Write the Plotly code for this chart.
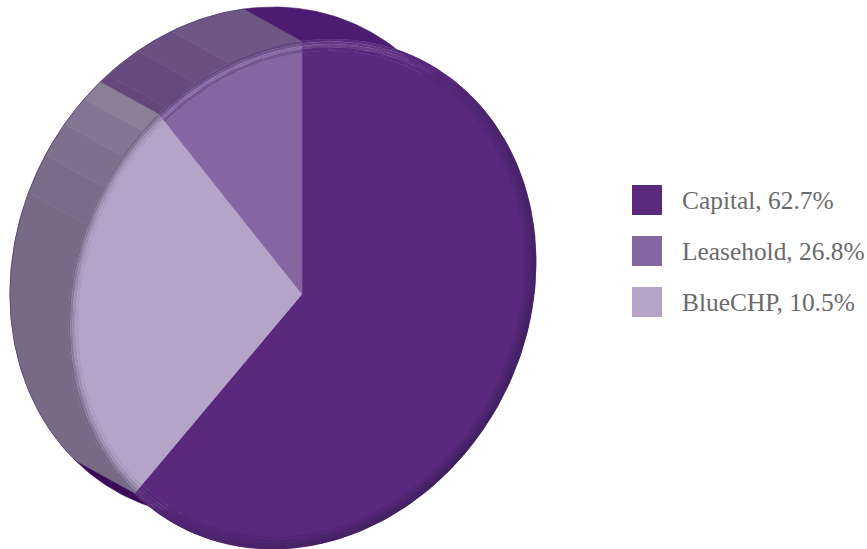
import numpy as np
import plotly.graph_objects as go

# Shares of the portfolio, in legend order
names = ["Capital", "Leasehold", "BlueCHP"]
shares = [62.7, 26.8, 10.5]
legend_colors = ["#5b2a7e", "#8566a0", "#b5a4c8"]

# Slice fill for each share, and the shade of its side wall
face_colors = ["#5a297d", "#b5a4c8", "#8566a0"]
wall_breaks = [
    (225.7, 293.0, "#786a85"), (293.0, 302.0, "#7a6c88"),
    (302.0, 310.0, "#7e708c"), (310.0, 317.0, "#837692"), (317.0, 322.2, "#8b7f98"),
    (322.2, 324.4, "#654879"), (324.4, 333.0, "#674b7f"), (333.0, 342.0, "#6a4f80"),
    (342.0, 360.0, "#6f5785"), (0.0, 100.0, "#4b1c70"), (100.0, 225.7, "#3a0c5a"),
]

# Projection of the disc: apex, axis vectors and extrusion direction
CENTER = np.array([302.0, 294.0])
AXIS_UP = np.array([0.0, -253.0])
AXIS_RIGHT = np.array([234.0, -32.0])
DEPTH = np.array([-58.0, -32.0])
RIM_SCALES = [1.0, 0.99, 0.98, 0.968, 0.954]
SHADOW = (50, 30, 80)
GREY_SHADOW = (108, 94, 124)


def rim_point(deg, scale=1.0):
    t = np.radians(deg)
    t = np.atleast_1d(t)
    return CENTER + scale * (np.outer(np.sin(t), AXIS_RIGHT) + np.outer(np.cos(t), AXIS_UP))


def mix(hex_color, target, amount):
    c = np.array([int(hex_color[i:i + 2], 16) for i in (1, 3, 5)], float)
    out = c + (np.array(target, float) - c) * amount
    return "rgb({},{},{})".format(*[int(round(v)) for v in out])


def polygon(fig, pts, color, line_color=None, width=0.6, name=None):
    fig.add_trace(go.Scatter(
        x=pts[:, 0], y=pts[:, 1], mode="lines", fill="toself", fillcolor=color,
        line=dict(color=line_color or color, width=width), hoverinfo="skip",
        showlegend=False, name=name,
    ))


fig = go.Figure()

# Side walls of the extruded disc
for start, stop, color in wall_breaks:
    arc = np.linspace(start, stop, max(3, int(stop - start) + 2))
    front = rim_point(arc)
    back = front + DEPTH
    polygon(fig, np.vstack([front, back[::-1], front[:1]]), color)

# Thin darker edge along the far side of the wall
arc = np.linspace(225.7, 360, 120)
back_edge = rim_point(arc) + DEPTH
fig.add_trace(go.Scatter(x=back_edge[:, 0], y=back_edge[:, 1], mode="lines",
                         line=dict(color="#5f4a80", width=1.0), hoverinfo="skip", showlegend=False))

# Slice boundaries in degrees, clockwise from twelve o'clock
edges = np.concatenate([[0.0], np.cumsum(shares) / np.sum(shares) * 360.0])

# Flat slice faces
for i, color in enumerate(face_colors):
    arc = np.linspace(edges[i], edges[i + 1], 120)
    pts = np.vstack([CENTER, rim_point(arc, RIM_SCALES[-1]), CENTER])
    polygon(fig, pts, color, name=names[i])


def rim_shade(index, deg, ring):
    # Bevel: a highlight near the top, shadow on the right and lower side
    base = face_colors[index]
    lit = max(0.0, np.cos(np.radians(deg - 350.0))) ** 4
    shade = max(0.0, np.cos(np.radians(deg - 130.0))) ** 0.6
    if index == 0:
        amounts = [0.50, 0.38, 0.24, 0.06]
        amount = amounts[ring] * shade
        if deg < 35:
            glow = [0.0, 0.08, 0.14, 0.0][ring] * lit
            return mix(base, (255, 255, 255), glow)
        return mix(base, SHADOW, amount + 0.12)
    if index == 1:
        amounts = [0.85, 0.6, 0.32, 0.12]
        return mix(base, GREY_SHADOW, amounts[ring])
    amounts = [0.45, 0.28, -0.2, 0.22]
    amount = amounts[ring]
    return mix(base, (165, 130, 200), -amount) if amount < 0 else mix(base, SHADOW, amount)


# Bevelled rim of each slice
for i in range(len(face_colors)):
    steps = np.arange(edges[i], edges[i + 1], 7.0)
    steps = np.append(steps, edges[i + 1])
    for a, b in zip(steps[:-1], steps[1:]):
        arc = np.linspace(a, b, 6)
        for ring in range(len(RIM_SCALES) - 1):
            outer = rim_point(arc, RIM_SCALES[ring])
            inner = rim_point(arc, RIM_SCALES[ring + 1])
            shade = rim_shade(i, (a + b) / 2, ring)
            polygon(fig, np.vstack([outer, inner[::-1], outer[:1]]), shade, width=0.4)

# Legend
fig_shapes = []
annotations = []
swatch_tops = [185, 236, 287]
for name, share, color, top in zip(names, shares, legend_colors, swatch_tops):
    fig_shapes.append(dict(type="rect", xref="x", yref="y", x0=632, x1=662, y0=top, y1=top + 30,
                           fillcolor=color, line=dict(width=0)))
    annotations.append(dict(xref="x", yref="y", x=680, y=top + 15, xanchor="left", yanchor="middle",
                            text=f"{name}, {share}%", showarrow=False,
                            font=dict(family="Liberation Serif", size=25.4, color="#6b6b6b")))

fig.update_layout(
    width=867, height=549, margin=dict(l=0, r=0, t=0, b=0),
    paper_bgcolor="white", plot_bgcolor="white", showlegend=False,
    shapes=fig_shapes, annotations=annotations,
    xaxis=dict(range=[0, 867], visible=False, fixedrange=True),
    yaxis=dict(range=[549, 0], visible=False, fixedrange=True),
)

fig.write_html("out.html", config=dict(displayModeBar=False))
